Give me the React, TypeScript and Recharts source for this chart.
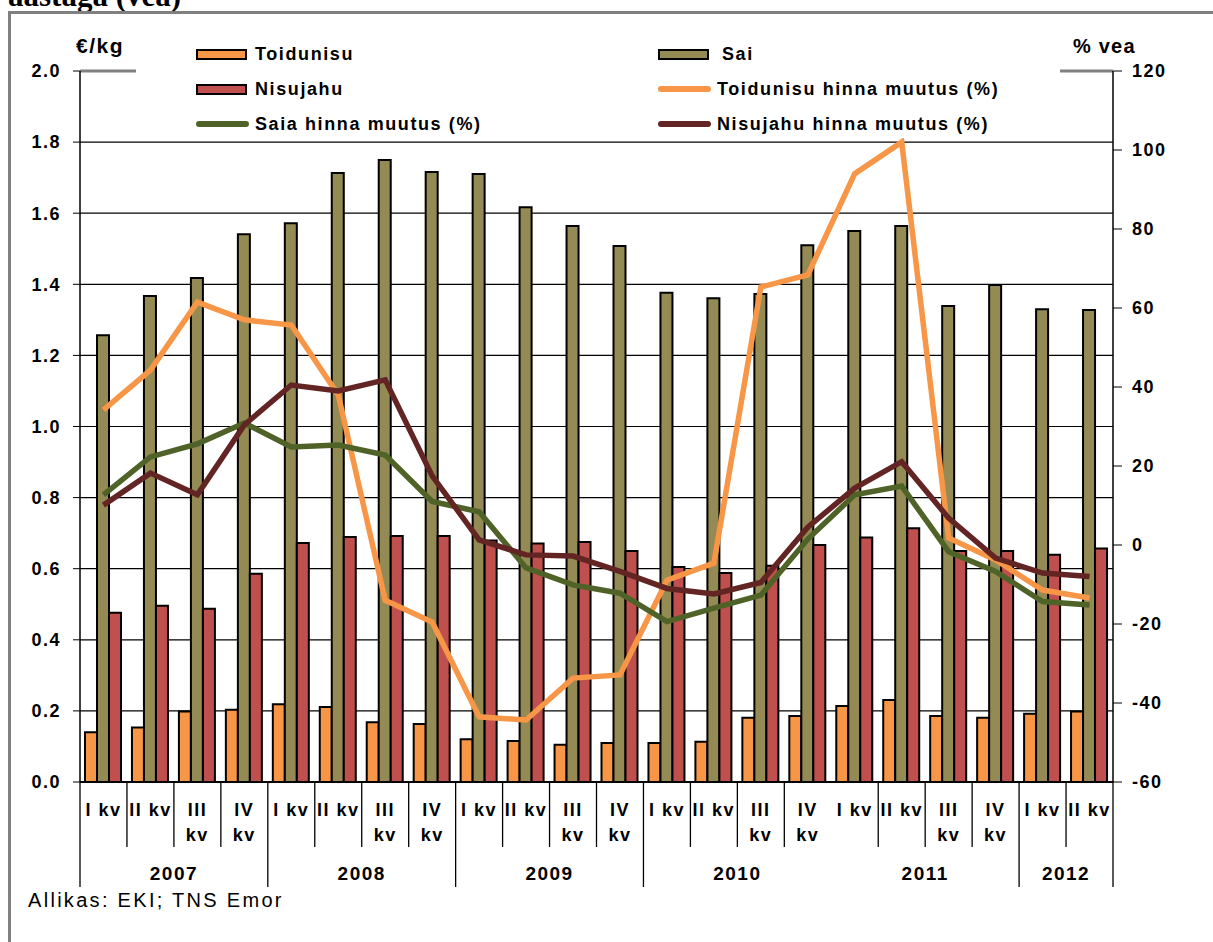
import React from "react";
import { Bar, CartesianGrid, ComposedChart, Line, ReferenceLine, XAxis, YAxis } from "recharts";

// Quarterly flour and bread prices (€/kg) with the yearly price change (%).

const years = ["2007", "2008", "2009", "2010", "2011", "2012"];
const quartersPerYear = [4, 4, 4, 4, 4, 2];
const quarterNames = ["I kv", "II kv", "III\nkv", "IV\nkv"];

const toidunisu = [0.14, 0.153, 0.198, 0.203, 0.219, 0.211, 0.168, 0.163, 0.12, 0.115, 0.105, 0.11, 0.11, 0.113, 0.181, 0.186, 0.214, 0.231, 0.186, 0.181, 0.192, 0.198];
const sai = [1.257, 1.367, 1.418, 1.541, 1.572, 1.713, 1.75, 1.716, 1.71, 1.617, 1.564, 1.508, 1.376, 1.361, 1.373, 1.51, 1.55, 1.564, 1.339, 1.398, 1.33, 1.328];
const nisujahu = [0.476, 0.496, 0.487, 0.586, 0.672, 0.689, 0.692, 0.692, 0.679, 0.671, 0.675, 0.65, 0.605, 0.588, 0.608, 0.667, 0.688, 0.714, 0.65, 0.65, 0.639, 0.657];
const toidunisuPct = [34.2, 44.3, 61.5, 57, 55.7, 38, -14, -19.5, -43.5, -44.3, -33.7, -32.9, -8.9, -4.6, 65.3, 68.4, 94, 102, 1.8, -3.8, -11.4, -13.4];
const saiaPct = [12.7, 22.3, 25.6, 30.9, 24.8, 25.3, 22.8, 11, 8.4, -5.8, -10.1, -12.2, -19.4, -16, -12.7, 1.5, 12.7, 14.9, -1.7, -6.7, -14.3, -15.2];
const nisujahuPct = [10.1, 18.2, 12.7, 30.4, 40.5, 39, 41.8, 17.5, 1.3, -2.5, -2.8, -6.7, -11, -12.4, -9.5, 4.5, 14.4, 21.1, 6.8, -3.3, -7.1, -8];

const seriesNames = [
  "Toidunisu",
  "Sai",
  "Nisujahu",
  "Toidunisu hinna muutus (%)",
  "Saia hinna muutus (%)",
  "Nisujahu hinna muutus (%)",
];

const leftTicks = [0, 0.2, 0.4, 0.6, 0.8, 1.0, 1.2, 1.4, 1.6, 1.8, 2.0];
const rightTicks = [-60, -40, -20, 0, 20, 40, 60, 80, 100, 120];

// year boundaries that Excel drew without a divider line
const noDivider = ["2011"];

const ORANGE = "#F79646";
const OLIVE = "#948A54";
const RED = "#C0504D";
const GREEN = "#4F6228";
const DARKRED = "#632523";

const FONT = "'Liberation Sans', Arial, sans-serif";

const W = 1213;
const H = 942;
const LEFT_W = 80;
const RIGHT_W = 100;
const TOP = 71;
const XAXIS_H = 160;
const BAND = (W - LEFT_W - RIGHT_W) / toidunisu.length;

type Row = {
  key: string;
  year: string;
  yearIndex: number;
  qi: number;
  quarter: string;
  toidunisu: number;
  sai: number;
  nisujahu: number;
  toidunisuPct: number;
  saiaPct: number;
  nisujahuPct: number;
};

const data: Row[] = [];
years.forEach((year, yi) => {
  for (let q = 0; q < quartersPerYear[yi]; q++) {
    const i = data.length;
    data.push({
      key: `${year}-${q}`,
      year,
      yearIndex: yi,
      qi: q,
      quarter: quarterNames[q],
      toidunisu: toidunisu[i],
      sai: sai[i],
      nisujahu: nisujahu[i],
      toidunisuPct: toidunisuPct[i],
      saiaPct: saiaPct[i],
      nisujahuPct: nisujahuPct[i],
    });
  }
});

const QuarterTick = (props: any) => {
  const { x, y, payload } = props;
  const i = payload.index;
  const row = data[i];
  if (!row) return null;
  const half = BAND / 2;
  const left = x - half;
  const lines = row.quarter.split("\n");
  const yearStart = row.qi === 0;
  const showLeft = !(yearStart && noDivider.includes(row.year));
  const last = i === data.length - 1;
  const yearWidth = quartersPerYear[row.yearIndex] * BAND;
  const textStyle = { fontFamily: FONT, fontWeight: 700, letterSpacing: 1.5 };
  return (
    <g>
      {showLeft && (
        <line x1={left} x2={left} y1={y} y2={y + (yearStart ? 105 : 65)} stroke="#000" strokeWidth={1.3} />
      )}
      {last && <line x1={x + half} x2={x + half} y1={y} y2={y + 105} stroke="#000" strokeWidth={1.3} />}
      {lines.map((t: string, k: number) => (
        <text key={k} x={x} y={y + 34 + k * 25} textAnchor="middle" fontSize={18} fill="#000" style={textStyle}>
          {t}
        </text>
      ))}
      {yearStart && (
        <text x={left + yearWidth / 2} y={y + 98} textAnchor="middle" fontSize={19} fill="#000" style={textStyle}>
          {row.year}
        </text>
      )}
    </g>
  );
};

const legendItems = seriesNames.map((name, i) => ({
  name,
  kind: i < 3 ? "bar" : "line",
  color: [ORANGE, OLIVE, RED, ORANGE, GREEN, DARKRED][i],
}));

const ChartLegend = () => (
  <div
    style={{
      position: "absolute",
      left: 136,
      top: 34,
      width: 924,
      height: 104,
      background: "#fff",
    }}
  >
    {legendItems.map((item, i) => {
      const row = Math.floor(i / 2);
      const col = i % 2;
      return (
        <div
          key={item.name}
          style={{
            position: "absolute",
            left: col === 0 ? 60 : 522,
            top: 6 + row * 35,
            height: 28,
            display: "flex",
            alignItems: "center",
            fontFamily: FONT,
            fontWeight: 700,
            fontSize: 18,
            letterSpacing: 1.6,
            color: "#000",
            whiteSpace: "nowrap",
          }}
        >
          {item.kind === "bar" ? (
            <span
              style={{
                display: "inline-block",
                width: 47,
                height: 7,
                background: item.color,
                border: "2px solid #000",
                marginRight: col === 0 ? 8 : 13,
              }}
            />
          ) : (
            <span
              style={{
                display: "inline-block",
                width: 53,
                height: 6,
                borderRadius: 3,
                background: item.color,
                marginRight: 6,
              }}
            />
          )}
          <span>{item.name}</span>
        </div>
      );
    })}
  </div>
);

export default function App() {
  const tickStyle = { fontFamily: FONT, fontWeight: 700, fontSize: 18, fill: "#000", letterSpacing: 1.5 };
  return (
    <div
      style={{
        position: "absolute",
        left: 0,
        top: 0,
        width: W,
        height: H,
        overflow: "hidden",
        background: "#fff",
      }}
    >
      <div
        style={{
          position: "absolute",
          left: 8,
          top: -20,
          fontFamily: "'Liberation Serif', 'Times New Roman', serif",
          fontWeight: 700,
          fontSize: 31,
          lineHeight: "31px",
          whiteSpace: "nowrap",
        }}
      >
        aastaga (vea)
      </div>
      <div
        style={{
          position: "absolute",
          left: 8,
          top: 11,
          width: W + 20,
          height: H + 20,
          border: "3px solid #808080",
          boxSizing: "border-box",
        }}
      />
      <div style={{ position: "absolute", left: 0, top: 0 }}>
        <ComposedChart
          width={W}
          height={H}
          data={data}
          margin={{ top: TOP, right: 0, bottom: 0, left: 0 }}
          barCategoryGap={5}
          barGap={0}
        >
          <CartesianGrid yAxisId="left" vertical={false} stroke="#000" strokeWidth={1.2} />
          <XAxis
            dataKey="key"
            height={XAXIS_H}
            interval={0}
            tick={<QuarterTick />}
            tickLine={false}
            tickSize={0}
            tickMargin={0}
            axisLine={{ stroke: "#000", strokeWidth: 2 }}
          />
          <YAxis
            yAxisId="left"
            width={LEFT_W}
            domain={[0, 2]}
            ticks={leftTicks}
            interval={0}
            tickFormatter={(v: number) => v.toFixed(1)}
            tick={tickStyle}
            tickSize={7}
            tickMargin={12}
            tickLine={{ stroke: "#000" }}
            axisLine={{ stroke: "#000", strokeWidth: 1.5 }}
          />
          <YAxis
            yAxisId="right"
            orientation="right"
            width={RIGHT_W}
            domain={[-60, 120]}
            ticks={rightTicks}
            interval={0}
            tick={{ ...tickStyle, textAnchor: "start" }}
            tickSize={9}
            tickMargin={10}
            tickLine={{ stroke: "#000" }}
            axisLine={{ stroke: "#000", strokeWidth: 1.5 }}
          />
          <ReferenceLine yAxisId="left" y={2} stroke="#808080" strokeWidth={3} />
          <Bar yAxisId="left" dataKey="toidunisu" name={seriesNames[0]} fill={ORANGE} stroke="#000" strokeWidth={2} isAnimationActive={false} />
          <Bar yAxisId="left" dataKey="sai" name={seriesNames[1]} fill={OLIVE} stroke="#000" strokeWidth={2} isAnimationActive={false} />
          <Bar yAxisId="left" dataKey="nisujahu" name={seriesNames[2]} fill={RED} stroke="#000" strokeWidth={2} isAnimationActive={false} />
          <Line yAxisId="right" type="linear" dataKey="toidunisuPct" name={seriesNames[3]} stroke={ORANGE} strokeWidth={5.5} dot={false} isAnimationActive={false} />
          <Line yAxisId="right" type="linear" dataKey="saiaPct" name={seriesNames[4]} stroke={GREEN} strokeWidth={5.5} dot={false} isAnimationActive={false} />
          <Line yAxisId="right" type="linear" dataKey="nisujahuPct" name={seriesNames[5]} stroke={DARKRED} strokeWidth={5.5} dot={false} isAnimationActive={false} />
        </ComposedChart>
      </div>
      <ChartLegend />
      <div style={{ position: "absolute", left: 76, top: 35, fontFamily: FONT, fontWeight: 700, fontSize: 21, lineHeight: "21px", letterSpacing: 1.5 }}>
        €/kg
      </div>
      <div style={{ position: "absolute", left: 1073, top: 36, fontFamily: FONT, fontWeight: 700, fontSize: 20, lineHeight: "20px", letterSpacing: 1.2 }}>
        % vea
      </div>
      <div
        style={{
          position: "absolute",
          left: 28,
          top: 890,
          fontFamily: FONT,
          fontSize: 20,
          lineHeight: "20px",
          letterSpacing: 2.3,
          whiteSpace: "nowrap",
        }}
      >
        Allikas: EKI; TNS Emor
      </div>
    </div>
  );
}
